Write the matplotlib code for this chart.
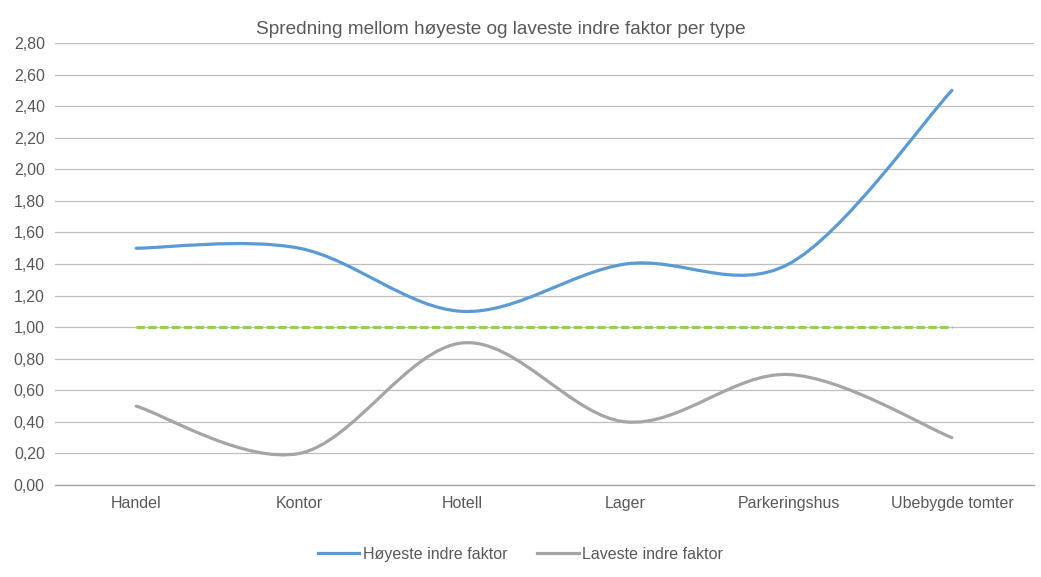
import matplotlib
matplotlib.use("Agg")
import matplotlib.pyplot as plt
from matplotlib.path import Path
from matplotlib.patches import PathPatch
from matplotlib.lines import Line2D
from matplotlib.ticker import FuncFormatter, MultipleLocator
import numpy as np

plt.rcParams['font.family'] = ['Liberation Sans', 'DejaVu Sans']

# data
categories = ['Handel', 'Kontor', 'Hotell', 'Lager', 'Parkeringshus', 'Ubebygde tomter']
hoyeste = [1.5, 1.5, 1.1, 1.4, 1.4, 2.5]
laveste = [0.5, 0.2, 0.9, 0.4, 0.7, 0.3]
referanse = [1.0, 1.0, 1.0, 1.0, 1.0, 1.0]

title = 'Spredning mellom høyeste og laveste indre faktor per type'
text_col = '#595959'


# smooth line like excel does (bezier through the points)
def smooth_path(xs, ys):
  pts = np.column_stack([xs, ys]).astype(float)
  n = len(pts)
  verts = [pts[0]]
  codes = [Path.MOVETO]
  for i in range(n - 1):
    p0 = pts[i - 1] if i > 0 else pts[i]
    p1 = pts[i]
    p2 = pts[i + 1]
    p3 = pts[i + 2] if i + 2 < n else pts[i + 1]
    c1 = p1 + (p2 - p0) / 6.0
    c2 = p2 - (p3 - p1) / 6.0
    verts += [c1, c2, p2]
    codes += [Path.CURVE4] * 3
  return Path(verts, codes)


fig = plt.figure(figsize=(10.41, 5.77), dpi=100)
ax = fig.add_axes([0.0524, 0.1594, 0.9404, 0.7661])

x = np.arange(len(categories))

for vals, col in [(hoyeste, '#5B9BD5'), (laveste, '#A5A5A5')]:
  patch = PathPatch(smooth_path(x, vals), facecolor='none', edgecolor=col,
                    linewidth=2.3, capstyle='round', zorder=3)
  ax.add_patch(patch)

ax.plot(x, referanse, color='#92D050', linewidth=2.3, linestyle=(0, (2.6, 1.1)), zorder=3)

ax.set_xlim(-0.5, len(categories) - 0.5)
ax.set_ylim(0, 2.8)
ax.yaxis.set_major_locator(MultipleLocator(0.2))
ax.yaxis.set_major_formatter(FuncFormatter(lambda v, p: ('%.2f' % v).replace('.', ',')))
ax.set_xticks(x)
ax.set_xticklabels(categories)

ax.grid(axis='y', color='#BFBFBF', linewidth=0.9, zorder=0)
ax.set_axisbelow(True)
for s in ['top', 'right', 'left']:
  ax.spines[s].set_visible(False)
ax.spines['bottom'].set_color('#A6A6A6')
ax.spines['bottom'].set_linewidth(1.0)
ax.tick_params(axis='both', length=0, labelsize=11.5, labelcolor=text_col)
ax.tick_params(axis='x', pad=8)
ax.tick_params(axis='y', pad=7)

fig.text(0.481, 0.949, title, ha='center', va='center', fontsize=13.7, color=text_col)

handles = [Line2D([0], [0], color='#5B9BD5', linewidth=2.3),
           Line2D([0], [0], color='#A5A5A5', linewidth=2.3)]
fig.legend(handles, ['Høyeste indre faktor', 'Laveste indre faktor'],
           loc='center', bbox_to_anchor=(0.5, 0.039), ncol=2, frameon=False,
           fontsize=11.5, labelcolor=text_col, handlelength=2.6,
           handletextpad=0.2, columnspacing=1.9)

fig.savefig('out.png', dpi=100)
